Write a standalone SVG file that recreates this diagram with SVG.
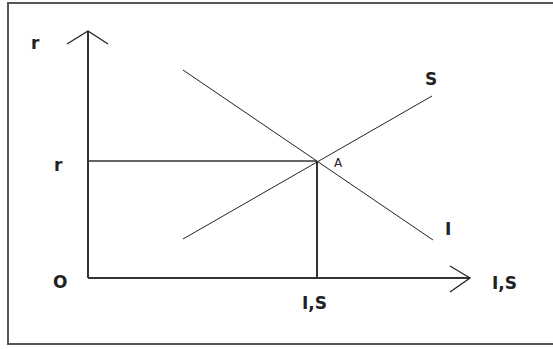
<svg xmlns="http://www.w3.org/2000/svg" width="553" height="349" viewBox="0 0 553 349">
<style>
.frame{fill:#fff;stroke:#555;stroke-width:2}
.axis{stroke:#333;stroke-width:2;fill:none}
.guide{stroke:#333;stroke-width:1.6;fill:none}
.curve{stroke:#222;stroke-width:1;fill:none}
.lbl{font-family:"DejaVu Sans",sans-serif;font-weight:bold;font-size:17px;fill:#222}
.small{font-family:"DejaVu Sans",sans-serif;font-size:12px;fill:#222}
</style>
<rect class="frame" x="8" y="3" width="560" height="341"/>
<g id="connectors">
<line class="axis" x1="88" y1="31" x2="88" y2="278"/>
<polyline class="curve" points="67,44 88,31 108,44" style="stroke-width:1.3"/>
<line class="axis" x1="88" y1="278" x2="470" y2="278"/>
<polyline class="curve" points="450,266 470,278 450,292" style="stroke-width:1.3"/>
<line class="guide" x1="88" y1="161" x2="317" y2="161"/>
<line class="axis" x1="317" y1="161" x2="317" y2="278"/>
<line class="curve" x1="183" y1="239" x2="432" y2="96"/>
<line class="curve" x1="183" y1="70" x2="433" y2="240"/>
</g>
<g id="labels">
<text class="lbl" x="31" y="49">r</text>
<text class="lbl" x="54" y="171">r</text>
<text class="lbl" x="53" y="288">O</text>
<text class="lbl" x="425" y="85">S</text>
<text class="small" x="334" y="167">A</text>
<text class="lbl" x="445" y="235">I</text>
<text class="lbl" x="492" y="289">I,S</text>
<text class="lbl" x="302" y="309">I,S</text>
</g>
</svg>
